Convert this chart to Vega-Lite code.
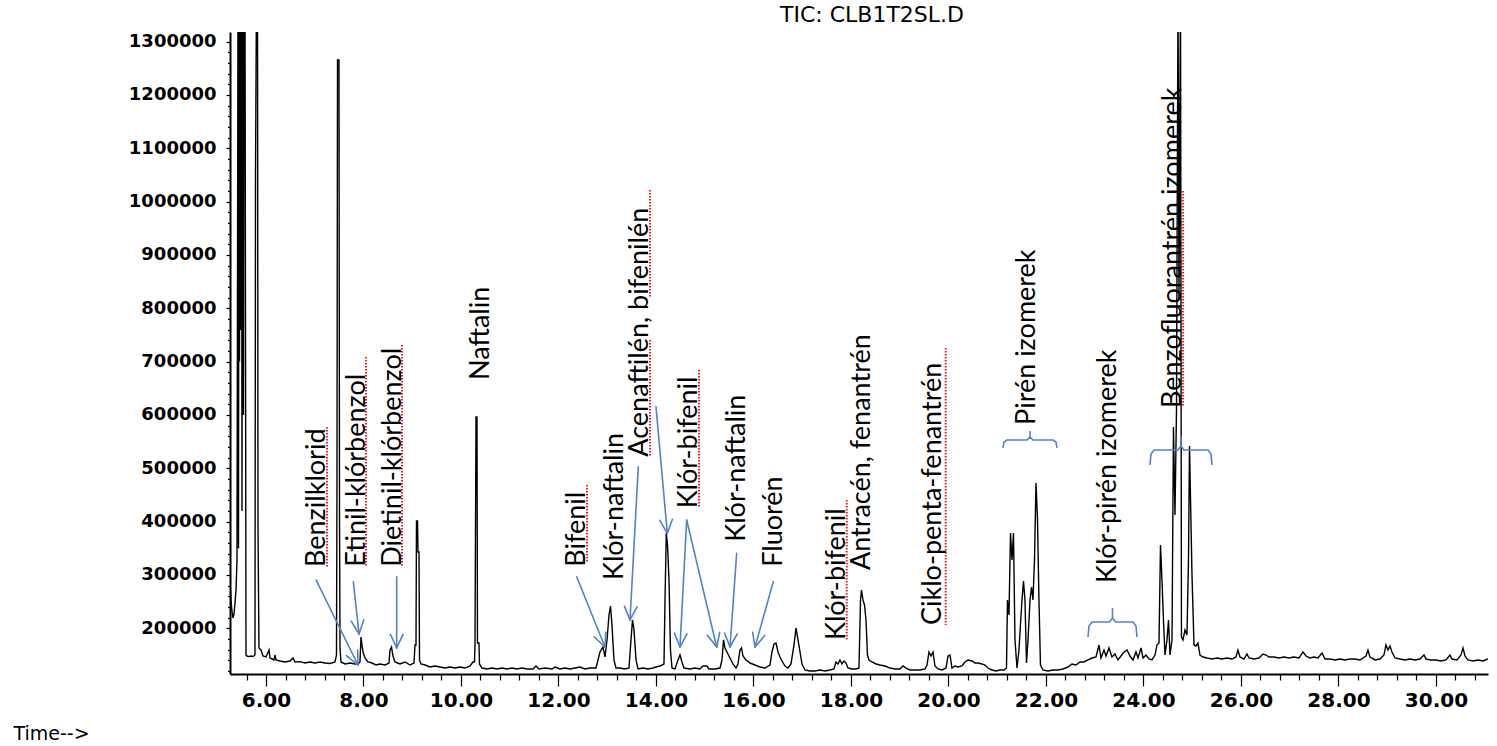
{
  "$schema": "https://vega.github.io/schema/vega-lite/v6.json",
  "width": 1258,
  "height": 642,
  "autosize": {"type": "none"},
  "padding": {"left": 230, "top": 32, "right": 9, "bottom": 72},
  "background": "white",
  "config": {"view": {"stroke": null}},
  "title": {"text": "TIC: CLB1T2SL.D", "font": "DejaVu Sans", "fontSize": 22, "fontWeight": "normal", "color": "black", "anchor": "middle", "dx": 13, "offset": 5},
  "datasets": {
    "trace": [
      {"t":5.262,"a":288700},{"t":5.282,"a":253100},{"t":5.303,"a":230600},{"t":5.323,"a":219300},{"t":5.344,"a":226800},{"t":5.364,"a":247400},{"t":5.385,"a":271800},{"t":5.405,"a":328100},{"t":5.426,"a":1400000},{"t":5.436,"a":350000},{"t":5.446,"a":1400000},{"t":5.456,"a":700000},{"t":5.467,"a":1400000},{"t":5.477,"a":759300},{"t":5.487,"a":1400000},{"t":5.497,"a":1400000},{"t":5.508,"a":420000},{"t":5.518,"a":1400000},{"t":5.528,"a":1400000},{"t":5.538,"a":600000},{"t":5.549,"a":1400000},{"t":5.559,"a":1400000},{"t":5.569,"a":1400000},{"t":5.590,"a":149900},{"t":5.610,"a":148000},{"t":5.651,"a":147000},{"t":5.692,"a":148000},{"t":5.733,"a":147000},{"t":5.774,"a":149900},{"t":5.785,"a":1053700},{"t":5.805,"a":1400000},{"t":5.826,"a":1400000},{"t":5.836,"a":388100},{"t":5.846,"a":271800},{"t":5.856,"a":163100},{"t":5.897,"a":159300},{"t":5.938,"a":148000},{"t":6.000,"a":146200},{"t":6.062,"a":159300},{"t":6.082,"a":144300},{"t":6.164,"a":140600},{"t":6.185,"a":149900},{"t":6.205,"a":140600},{"t":6.287,"a":138700},{"t":6.390,"a":136800},{"t":6.492,"a":138700},{"t":6.554,"a":144300},{"t":6.595,"a":136800},{"t":6.697,"a":137500},{"t":6.800,"a":134900},{"t":6.903,"a":136800},{"t":7.005,"a":134900},{"t":7.108,"a":136800},{"t":7.210,"a":134900},{"t":7.313,"a":134000},{"t":7.415,"a":136800},{"t":7.446,"a":149900},{"t":7.456,"a":483700},{"t":7.467,"a":1265600},{"t":7.497,"a":1265600},{"t":7.508,"a":406800},{"t":7.518,"a":163100},{"t":7.538,"a":136800},{"t":7.621,"a":133100},{"t":7.723,"a":134900},{"t":7.826,"a":133100},{"t":7.887,"a":133100},{"t":7.928,"a":136800},{"t":7.949,"a":183700},{"t":7.969,"a":168700},{"t":7.990,"a":155600},{"t":8.031,"a":144300},{"t":8.092,"a":136800},{"t":8.174,"a":134900},{"t":8.256,"a":131200},{"t":8.338,"a":133100},{"t":8.441,"a":131200},{"t":8.523,"a":134900},{"t":8.544,"a":159300},{"t":8.574,"a":164900},{"t":8.605,"a":148000},{"t":8.646,"a":136800},{"t":8.749,"a":133100},{"t":8.851,"a":136800},{"t":8.954,"a":131200},{"t":9.036,"a":134900},{"t":9.056,"a":168700},{"t":9.077,"a":168700},{"t":9.087,"a":401200},{"t":9.108,"a":401200},{"t":9.118,"a":343100},{"t":9.138,"a":343100},{"t":9.149,"a":140600},{"t":9.179,"a":133100},{"t":9.262,"a":131200},{"t":9.364,"a":127400},{"t":9.467,"a":129300},{"t":9.569,"a":127400},{"t":9.672,"a":125500},{"t":9.774,"a":127400},{"t":9.877,"a":125500},{"t":9.979,"a":127400},{"t":10.082,"a":125500},{"t":10.185,"a":129300},{"t":10.246,"a":136800},{"t":10.277,"a":136800},{"t":10.287,"a":168700},{"t":10.308,"a":596200},{"t":10.328,"a":596200},{"t":10.338,"a":172400},{"t":10.369,"a":172400},{"t":10.379,"a":133100},{"t":10.431,"a":125500},{"t":10.533,"a":123700},{"t":10.636,"a":125500},{"t":10.738,"a":123700},{"t":10.841,"a":125500},{"t":10.944,"a":123700},{"t":11.046,"a":125500},{"t":11.149,"a":123700},{"t":11.251,"a":125500},{"t":11.354,"a":123700},{"t":11.477,"a":123700},{"t":11.538,"a":129300},{"t":11.600,"a":123700},{"t":11.723,"a":125500},{"t":11.867,"a":123700},{"t":11.928,"a":127400},{"t":12.031,"a":123700},{"t":12.133,"a":125500},{"t":12.236,"a":123700},{"t":12.338,"a":125500},{"t":12.441,"a":127400},{"t":12.544,"a":123700},{"t":12.646,"a":125500},{"t":12.769,"a":125500},{"t":12.810,"a":140600},{"t":12.851,"a":155600},{"t":12.913,"a":164900},{"t":12.954,"a":146200},{"t":12.995,"a":178100},{"t":13.036,"a":225000},{"t":13.067,"a":241800},{"t":13.097,"a":206200},{"t":13.138,"a":140600},{"t":13.179,"a":125500},{"t":13.262,"a":125500},{"t":13.364,"a":123700},{"t":13.446,"a":125500},{"t":13.487,"a":178100},{"t":13.518,"a":215600},{"t":13.549,"a":196800},{"t":13.590,"a":140600},{"t":13.631,"a":123700},{"t":13.733,"a":125500},{"t":13.836,"a":123700},{"t":13.938,"a":125500},{"t":14.000,"a":127400},{"t":14.082,"a":129300},{"t":14.164,"a":133100},{"t":14.185,"a":253100},{"t":14.211,"a":378700},{"t":14.236,"a":356200},{"t":14.267,"a":290600},{"t":14.297,"a":159300},{"t":14.328,"a":125500},{"t":14.390,"a":123700},{"t":14.451,"a":140600},{"t":14.492,"a":149900},{"t":14.533,"a":136800},{"t":14.574,"a":125500},{"t":14.697,"a":123700},{"t":14.800,"a":125500},{"t":14.903,"a":123700},{"t":14.964,"a":129300},{"t":15.046,"a":129300},{"t":15.087,"a":123700},{"t":15.210,"a":123700},{"t":15.313,"a":125500},{"t":15.354,"a":140600},{"t":15.385,"a":178100},{"t":15.415,"a":163100},{"t":15.456,"a":155600},{"t":15.518,"a":144300},{"t":15.579,"a":133100},{"t":15.641,"a":125500},{"t":15.682,"a":133100},{"t":15.723,"a":159300},{"t":15.754,"a":163100},{"t":15.785,"a":148000},{"t":15.846,"a":140600},{"t":15.928,"a":134900},{"t":16.031,"a":131200},{"t":16.133,"a":127400},{"t":16.236,"a":125500},{"t":16.338,"a":131200},{"t":16.379,"a":155600},{"t":16.421,"a":170600},{"t":16.462,"a":172400},{"t":16.503,"a":155600},{"t":16.544,"a":146200},{"t":16.585,"a":138700},{"t":16.646,"a":129300},{"t":16.708,"a":125500},{"t":16.769,"a":133100},{"t":16.831,"a":168700},{"t":16.872,"a":200600},{"t":16.913,"a":178100},{"t":16.954,"a":155600},{"t":16.995,"a":133100},{"t":17.056,"a":121800},{"t":17.159,"a":119900},{"t":17.262,"a":119900},{"t":17.364,"a":121800},{"t":17.467,"a":119900},{"t":17.569,"a":121800},{"t":17.651,"a":123700},{"t":17.692,"a":136800},{"t":17.733,"a":133100},{"t":17.774,"a":140600},{"t":17.815,"a":133100},{"t":17.856,"a":138700},{"t":17.897,"a":134900},{"t":17.938,"a":125500},{"t":18.021,"a":123700},{"t":18.103,"a":123700},{"t":18.164,"a":125500},{"t":18.195,"a":253100},{"t":18.215,"a":271800},{"t":18.246,"a":253100},{"t":18.277,"a":243700},{"t":18.308,"a":215600},{"t":18.338,"a":149900},{"t":18.369,"a":140600},{"t":18.431,"a":136800},{"t":18.513,"a":133100},{"t":18.595,"a":131200},{"t":18.697,"a":129300},{"t":18.800,"a":125500},{"t":18.903,"a":123700},{"t":19.005,"a":123700},{"t":19.067,"a":129300},{"t":19.128,"a":125500},{"t":19.210,"a":121800},{"t":19.313,"a":121800},{"t":19.415,"a":121800},{"t":19.518,"a":123700},{"t":19.559,"a":131200},{"t":19.600,"a":155600},{"t":19.641,"a":148000},{"t":19.682,"a":155600},{"t":19.723,"a":129300},{"t":19.785,"a":123700},{"t":19.867,"a":121800},{"t":19.949,"a":125500},{"t":19.990,"a":148000},{"t":20.031,"a":149900},{"t":20.072,"a":125500},{"t":20.133,"a":129300},{"t":20.195,"a":127400},{"t":20.277,"a":129300},{"t":20.338,"a":136800},{"t":20.400,"a":140600},{"t":20.482,"a":138700},{"t":20.544,"a":134900},{"t":20.605,"a":134900},{"t":20.687,"a":133100},{"t":20.749,"a":131200},{"t":20.810,"a":125500},{"t":20.892,"a":121800},{"t":20.974,"a":119900},{"t":21.056,"a":121800},{"t":21.138,"a":121800},{"t":21.190,"a":125500},{"t":21.210,"a":253100},{"t":21.241,"a":225000},{"t":21.272,"a":378700},{"t":21.303,"a":328100},{"t":21.333,"a":378700},{"t":21.364,"a":178100},{"t":21.405,"a":125500},{"t":21.446,"a":159300},{"t":21.477,"a":208100},{"t":21.508,"a":253100},{"t":21.538,"a":288700},{"t":21.569,"a":253100},{"t":21.600,"a":134900},{"t":21.631,"a":178100},{"t":21.672,"a":253100},{"t":21.703,"a":277400},{"t":21.733,"a":253100},{"t":21.764,"a":328100},{"t":21.795,"a":472400},{"t":21.826,"a":403100},{"t":21.856,"a":253100},{"t":21.887,"a":131200},{"t":21.938,"a":121800},{"t":22.041,"a":119900},{"t":22.144,"a":121800},{"t":22.246,"a":121800},{"t":22.349,"a":123700},{"t":22.451,"a":127400},{"t":22.533,"a":133100},{"t":22.615,"a":131200},{"t":22.697,"a":136800},{"t":22.779,"a":136800},{"t":22.862,"a":140600},{"t":22.944,"a":144300},{"t":23.026,"a":146200},{"t":23.087,"a":168700},{"t":23.128,"a":144300},{"t":23.190,"a":159300},{"t":23.231,"a":148000},{"t":23.292,"a":163100},{"t":23.354,"a":146200},{"t":23.415,"a":151800},{"t":23.477,"a":140600},{"t":23.538,"a":148000},{"t":23.600,"a":155600},{"t":23.662,"a":159300},{"t":23.723,"a":148000},{"t":23.785,"a":140600},{"t":23.846,"a":155600},{"t":23.887,"a":144300},{"t":23.949,"a":163100},{"t":23.990,"a":144300},{"t":24.051,"a":149900},{"t":24.113,"a":142400},{"t":24.174,"a":140600},{"t":24.236,"a":149900},{"t":24.277,"a":168700},{"t":24.318,"a":172400},{"t":24.349,"a":356200},{"t":24.379,"a":290600},{"t":24.410,"a":215600},{"t":24.441,"a":149900},{"t":24.482,"a":178100},{"t":24.513,"a":215600},{"t":24.544,"a":149900},{"t":24.585,"a":178100},{"t":24.615,"a":577400},{"t":24.646,"a":412400},{"t":24.677,"a":609300},{"t":24.708,"a":1400000},{"t":24.728,"a":815600},{"t":24.759,"a":1400000},{"t":24.779,"a":183700},{"t":24.810,"a":178100},{"t":24.851,"a":196800},{"t":24.892,"a":187400},{"t":24.923,"a":328100},{"t":24.944,"a":541800},{"t":24.964,"a":446200},{"t":24.995,"a":299900},{"t":25.036,"a":168700},{"t":25.077,"a":166800},{"t":25.118,"a":172400},{"t":25.159,"a":149900},{"t":25.221,"a":146200},{"t":25.303,"a":144300},{"t":25.405,"a":142400},{"t":25.508,"a":144300},{"t":25.610,"a":142400},{"t":25.713,"a":144300},{"t":25.815,"a":142400},{"t":25.897,"a":146200},{"t":25.938,"a":159300},{"t":25.979,"a":146200},{"t":26.062,"a":142400},{"t":26.123,"a":151800},{"t":26.164,"a":144300},{"t":26.267,"a":142400},{"t":26.369,"a":144300},{"t":26.451,"a":151800},{"t":26.513,"a":149900},{"t":26.574,"a":146200},{"t":26.677,"a":146200},{"t":26.779,"a":144300},{"t":26.882,"a":146200},{"t":26.985,"a":144300},{"t":27.087,"a":146200},{"t":27.190,"a":144300},{"t":27.272,"a":155600},{"t":27.333,"a":148000},{"t":27.415,"a":144300},{"t":27.497,"a":146200},{"t":27.579,"a":144300},{"t":27.662,"a":153700},{"t":27.723,"a":142400},{"t":27.826,"a":142400},{"t":27.928,"a":140600},{"t":28.031,"a":142400},{"t":28.133,"a":140600},{"t":28.236,"a":142400},{"t":28.338,"a":142400},{"t":28.441,"a":140600},{"t":28.564,"a":148000},{"t":28.605,"a":159300},{"t":28.646,"a":146200},{"t":28.749,"a":140600},{"t":28.851,"a":142400},{"t":28.933,"a":149900},{"t":28.974,"a":168700},{"t":29.015,"a":159300},{"t":29.056,"a":166800},{"t":29.097,"a":155600},{"t":29.159,"a":144300},{"t":29.262,"a":142400},{"t":29.364,"a":140600},{"t":29.467,"a":142400},{"t":29.569,"a":140600},{"t":29.672,"a":142400},{"t":29.754,"a":149900},{"t":29.795,"a":142400},{"t":29.897,"a":140600},{"t":30.000,"a":140600},{"t":30.103,"a":138700},{"t":30.205,"a":140600},{"t":30.287,"a":149900},{"t":30.328,"a":142400},{"t":30.431,"a":140600},{"t":30.513,"a":149900},{"t":30.554,"a":163100},{"t":30.595,"a":148000},{"t":30.656,"a":140600},{"t":30.759,"a":138700},{"t":30.862,"a":140600},{"t":30.964,"a":138700},{"t":31.067,"a":142400}
    ],
    "labels": [
      {"label":"Benzilklorid","t":7.217,"a":315000},
      {"label":"Etinil-klórbenzol","t":8.031,"a":315500},
      {"label":"Dietinil-klórbenzol","t":8.759,"a":315500},
      {"label":"Naftalin","t":10.574,"a":665600},
      {"label":"Bifenil","t":12.544,"a":315500},
      {"label":"Klór-naftalin","t":13.323,"a":290600},
      {"label":"Acenaftilén, bifenilén","t":13.836,"a":521700},
      {"label":"Klór-bifenil","t":14.851,"a":425000},
      {"label":"Klór-naftalin","t":15.826,"a":362400},
      {"label":"Fluorén","t":16.578,"a":315500},
      {"label":"Klór-bifenil","t":17.877,"a":178100},
      {"label":"Antracén, fenantrén","t":18.390,"a":309300},
      {"label":"Ciklo-penta-fenantrén","t":19.846,"a":206200},
      {"label":"Pirén izomerek","t":21.774,"a":581200},
      {"label":"Klór-pirén izomerek","t":23.436,"a":285000},
      {"label":"Benzofluorantrén izomerek","t":24.769,"a":613100}
    ],
    "arrows": [
      {"t":7.026,"a":290600,"t2":7.887,"a2":131200},{"t":7.887,"a":131200,"t2":7.881,"a2":159300},{"t":7.887,"a":131200,"t2":7.647,"a2":148800},
      {"t":7.791,"a":287400,"t2":7.908,"a2":189300},{"t":7.908,"a":189300,"t2":8.006,"a2":215900},{"t":7.908,"a":189300,"t2":7.748,"a2":213300},
      {"t":8.681,"a":296700,"t2":8.681,"a2":163100},{"t":8.681,"a":163100,"t2":8.810,"a2":188600},{"t":8.681,"a":163100,"t2":8.552,"a2":188600},
      {"t":12.373,"a":296700,"t2":12.954,"a2":164900},{"t":12.954,"a":164900,"t2":12.970,"a2":193100},{"t":12.954,"a":164900,"t2":12.730,"a2":184100},
      {"t":13.637,"a":503000,"t2":13.467,"a2":215600},{"t":13.467,"a":215600,"t2":13.612,"a2":240300},{"t":13.467,"a":215600,"t2":13.352,"a2":241600},
      {"t":14.000,"a":615500,"t2":14.232,"a2":378100},{"t":14.232,"a":378100,"t2":14.337,"a2":404600},{"t":14.232,"a":378100,"t2":14.078,"a2":402500},
      {"t":14.630,"a":403100,"t2":14.492,"a2":164900},{"t":14.492,"a":164900,"t2":14.636,"a2":189700},{"t":14.492,"a":164900,"t2":14.378,"a2":191000},
      {"t":14.630,"a":403100,"t2":15.245,"a2":164900},{"t":15.245,"a":164900,"t2":15.307,"a2":192500},{"t":15.245,"a":164900,"t2":15.054,"a2":187100},
      {"t":15.655,"a":340600,"t2":15.518,"a2":164900},{"t":15.518,"a":164900,"t2":15.668,"a2":189500},{"t":15.518,"a":164900,"t2":15.407,"a2":191200},
      {"t":16.406,"a":287400,"t2":16.031,"a2":164900},{"t":16.031,"a":164900,"t2":16.232,"a2":186300},{"t":16.031,"a":164900,"t2":15.982,"a2":192700}
    ],
    "squiggles": [
      {"t":7.251,"a":577400,"a2":315000},
      {"t":8.051,"a":708700,"a2":315000},
      {"t":8.790,"a":731200,"a2":315000},
      {"t":12.585,"a":468700,"a2":322400},
      {"t":13.877,"a":740600,"a2":521200},
      {"t":13.877,"a":1021800,"a2":819300},
      {"t":14.882,"a":684300,"a2":425600},
      {"t":17.913,"a":440600,"a2":178100},
      {"t":19.943,"a":725600,"a2":206200},
      {"t":24.810,"a":1020000,"a2":614900}
    ],
    "braces": [
      {"id":"pyr","i":1,"t":21.118,"a":538100},{"id":"pyr","i":2,"t":21.138,"a":549300},{"id":"pyr","i":3,"t":21.200,"a":553100},{"id":"pyr","i":4,"t":21.610,"a":553100},{"id":"pyr","i":5,"t":21.672,"a":558700},{"id":"pyr","i":6,"t":21.672,"a":569900},{"id":"pyr","i":7,"t":21.672,"a":558700},{"id":"pyr","i":8,"t":21.733,"a":553100},{"id":"pyr","i":9,"t":22.144,"a":553100},{"id":"pyr","i":10,"t":22.205,"a":549300},{"id":"pyr","i":11,"t":22.226,"a":538100},
      {"id":"clpyr","i":1,"t":22.862,"a":183700},{"id":"clpyr","i":2,"t":22.882,"a":204300},{"id":"clpyr","i":3,"t":22.944,"a":211800},{"id":"clpyr","i":4,"t":23.303,"a":211800},{"id":"clpyr","i":5,"t":23.364,"a":219300},{"id":"clpyr","i":6,"t":23.364,"a":238100},{"id":"clpyr","i":7,"t":23.364,"a":219300},{"id":"clpyr","i":8,"t":23.426,"a":211800},{"id":"clpyr","i":9,"t":23.785,"a":211800},{"id":"clpyr","i":10,"t":23.846,"a":204300},{"id":"clpyr","i":11,"t":23.867,"a":183700},
      {"id":"bfl","i":1,"t":24.133,"a":506200},{"id":"bfl","i":2,"t":24.154,"a":526800},{"id":"bfl","i":3,"t":24.215,"a":534300},{"id":"bfl","i":4,"t":24.708,"a":534300},{"id":"bfl","i":5,"t":24.769,"a":541800},{"id":"bfl","i":6,"t":24.769,"a":560600},{"id":"bfl","i":7,"t":24.769,"a":541800},{"id":"bfl","i":8,"t":24.831,"a":534300},{"id":"bfl","i":9,"t":25.323,"a":534300},{"id":"bfl","i":10,"t":25.385,"a":526800},{"id":"bfl","i":11,"t":25.405,"a":506200}
    ]
  },
  "encoding": {
    "x": {
      "field": "t", "type": "quantitative",
      "scale": {"domain": [5.2615, 31.067], "nice": false, "zero": false},
      "axis": {
        "values": [5.6,6,6.4,6.8,7.2,7.6,8,8.4,8.8,9.2,9.6,10,10.4,10.8,11.2,11.6,12,12.4,12.8,13.2,13.6,14,14.4,14.8,15.2,15.6,16,16.4,16.8,17.2,17.6,18,18.4,18.8,19.2,19.6,20,20.4,20.8,21.2,21.6,22,22.4,22.8,23.2,23.6,24,24.4,24.8,25.2,25.6,26,26.4,26.8,27.2,27.6,28,28.4,28.8,29.2,29.6,30,30.4,30.8],
        "labelExpr": "abs(datum.value / 2 - round(datum.value / 2)) < 0.001 ? format(datum.value, '.2f') : ''",
        "tickSize": {"condition": {"test": "abs(datum.value / 2 - round(datum.value / 2)) < 0.001", "value": 12}, "value": 6},
        "labelPadding": 4,
        "labelFont": "DejaVu Sans", "labelFontSize": 20, "labelFontWeight": "bold", "labelColor": "black",
        "labelOverlap": false, "labelFlush": false,
        "domainColor": "black", "domainWidth": 2, "tickColor": "black", "tickWidth": 1.2,
        "grid": false,
        "title": "Time-->", "titleFont": "DejaVu Sans", "titleFontSize": 19, "titleFontWeight": "normal", "titleColor": "black",
        "titleAlign": "left", "titleAnchor": "start", "titleBaseline": "alphabetic", "titleX": -217, "titleY": 65
      }
    },
    "y": {
      "field": "a", "type": "quantitative",
      "scale": {"domain": [114300, 1318000], "nice": false, "zero": false},
      "axis": {
        "values": [120000,140000,160000,180000,200000,220000,240000,260000,280000,300000,320000,340000,360000,380000,400000,420000,440000,460000,480000,500000,520000,540000,560000,580000,600000,620000,640000,660000,680000,700000,720000,740000,760000,780000,800000,820000,840000,860000,880000,900000,920000,940000,960000,980000,1000000,1020000,1040000,1060000,1080000,1100000,1120000,1140000,1160000,1180000,1200000,1220000,1240000,1260000,1280000,1300000],
        "labelExpr": "(datum.value % 100000 === 0 && datum.value >= 200000) ? format(datum.value, 'd') : ''",
        "tickSize": {"condition": {"test": "datum.value % 100000 === 0", "value": 4}, "value": 2.5},
        "labelPadding": 10,
        "labelFont": "DejaVu Sans", "labelFontSize": 18, "labelFontWeight": "bold", "labelColor": "black",
        "labelOverlap": false, "labelFlush": false,
        "domainColor": "black", "domainWidth": 2, "tickColor": "black", "tickWidth": 1.2,
        "grid": false, "title": null
      }
    }
  },
  "layer": [
    {
      "data": {"name": "trace"},
      "mark": {"type": "line", "color": "black", "strokeWidth": 1.4, "clip": true}
    },
    {
      "data": {"name": "squiggles"},
      "mark": {"type": "rule", "color": "#ff1a1a", "strokeWidth": 2, "strokeDash": [1.5, 1.5]},
      "encoding": {"y2": {"field": "a2"}}
    },
    {
      "data": {"name": "arrows"},
      "mark": {"type": "rule", "color": "#5283c4", "strokeWidth": 1.6, "strokeCap": "round"},
      "encoding": {"x2": {"field": "t2"}, "y2": {"field": "a2"}}
    },
    {
      "data": {"name": "braces"},
      "mark": {"type": "line", "color": "#5283c4", "strokeWidth": 1.6},
      "encoding": {"detail": {"field": "id"}, "order": {"field": "i"}}
    },
    {
      "data": {"name": "labels"},
      "mark": {"type": "text", "angle": 270, "align": "left", "baseline": "alphabetic", "font": "Lato", "fontSize": 27, "color": "black"},
      "encoding": {"text": {"field": "label"}}
    }
  ]
}
